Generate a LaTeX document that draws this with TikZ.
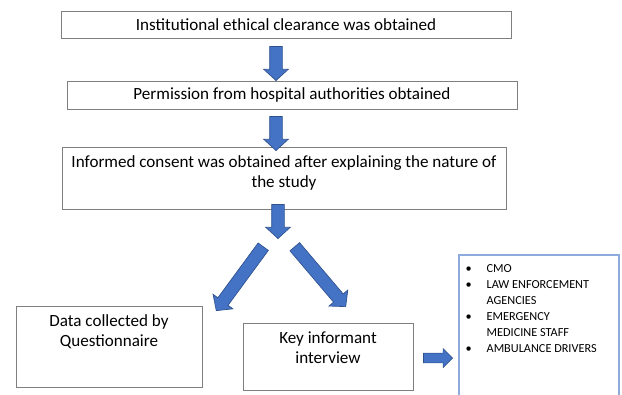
\documentclass[tikz,border=0pt]{standalone}
\usepackage{fontspec}
\setmainfont{Carlito}
\usepackage{tikz}
\usetikzlibrary{shapes,arrows,positioning}
\definecolor{arrow-blue}{HTML}{4472C4}
\definecolor{arrow-edge}{HTML}{2F528F}
\definecolor{box-gray}{HTML}{7F7F7F}
\definecolor{list-blue}{HTML}{8FAADC}
\tikzset{flow-box/.style={draw=box-gray, line width=0.75pt, inner sep=0, align=center, font=\fontsize{12.8}{15}\selectfont}}
\tikzset{flow-text/.style={inner sep=0, align=center, font=\fontsize{12.8}{15}\selectfont}}
\tikzset{list-box/.style={draw=list-blue, line width=0.9pt, inner sep=0}}
\tikzset{list-text/.style={inner sep=0, align=left, font=\fontsize{9.2}{12}\selectfont}}
\tikzset{flow-arrow/.style={
        single arrow,
        draw=arrow-edge,
        fill=arrow-blue,
        line width=0.5pt,
        inner sep=4.5pt,
        minimum width=0pt,
        minimum height=#1,
        single arrow head extend=4.5pt,
        single arrow tip angle=95,
        sloped,
        allow upside down,
        anchor=tip,
        pos=1
    }
}

\begin{document}
\begin{tikzpicture}[x=0.75pt, y=-0.75pt]
            \useasboundingbox (0,0) rectangle (622,394);

            \node[flow-box, minimum width=337.5pt, minimum height=20.25pt] (clearance) at (286,24.5) {Institutional ethical clearance was obtained};
            \node[flow-box, minimum width=337.5pt, minimum height=21pt] (permission) at (292,95) {Permission from hospital authorities obtained};

            \node[flow-box, minimum width=333pt, minimum height=46.5pt] (consent) at (284,178) {};
            \node[flow-text, below=7pt of consent.north] (consent-text) {Informed consent was obtained after explaining the nature of\\the study};

            \node[flow-box, minimum width=139.5pt, minimum height=60.75pt] (data) at (109,346.5) {};
            \node[flow-text, below=7pt of data.north] (data-text) {Data collected by\\Questionnaire};

            \node[flow-box, minimum width=127.5pt, minimum height=50.25pt] (interview) at (328,356.5) {};
            \node[flow-text, below=7pt of interview.north] (interview-text) {Key informant\\interview};

            \node[list-box, minimum width=120pt, minimum height=112.5pt] (informants) at (539,330) {};
            \node[list-text, below right=4.75pt and 5.25pt of informants.north west] (informants-text) {%
                \begin{tabular}{@{}p{15.75pt}@{}l@{}}
                    • & CMO\\
                    • & LAW ENFORCEMENT\\
                      & AGENCIES\\
                    • & EMERGENCY\\
                      & MEDICINE STAFF\\
                    • & AMBULANCE DRIVERS
                \end{tabular}};

            \coordinate (clearance-out) at (276,47);
            \coordinate (permission-in) at (276,81);
            \coordinate (permission-out) at (276,117);
            \coordinate (consent-in) at (276,151);
            \coordinate (consent-out) at (278,205);
            \coordinate (split) at (278,239);
            \coordinate (split-left) at (263,247);
            \coordinate (data-in) at (216,311);
            \coordinate (split-right) at (295,247);
            \coordinate (interview-in) at (346,307);
            \coordinate (interview-out) at (424,358);
            \coordinate (informants-in) at (453,358);

            \path (clearance-out) -- (permission-in) node[flow-arrow=25.5pt] (arrow1) {};
            \path (permission-out) -- (consent-in) node[flow-arrow=25.5pt] (arrow2) {};
            \path (consent-out) -- (split) node[flow-arrow=25.5pt] (arrow3) {};
            \path (split-left) -- (data-in) node[flow-arrow=59.5pt] (arrow4) {};
            \path (split-right) -- (interview-in) node[flow-arrow=59pt] (arrow5) {};
            \path (interview-out) -- (informants-in) node[flow-arrow=21.75pt, inner sep=3.4pt, single arrow head extend=3.4pt, single arrow tip angle=90] (arrow6) {};

        \end{tikzpicture}
\end{document}
